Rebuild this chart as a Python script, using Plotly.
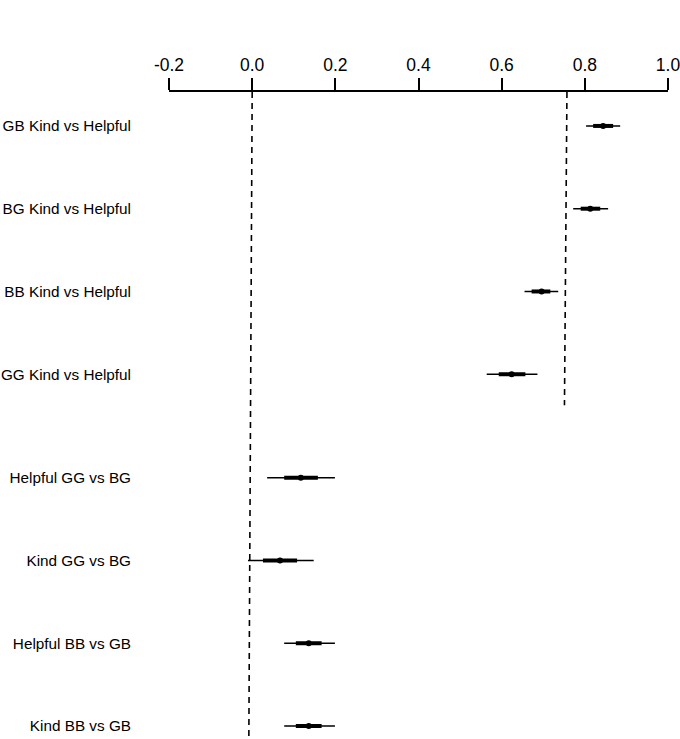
import plotly.graph_objects as go

# rows from top to bottom
labels = ["GB Kind vs Helpful", "BG Kind vs Helpful", "BB Kind vs Helpful", "GG Kind vs Helpful",
          "Helpful GG vs BG", "Kind GG vs BG", "Helpful BB vs GB", "Kind BB vs GB"]
est = [0.844, 0.813, 0.696, 0.624, 0.117, 0.067, 0.136, 0.136]
lo_outer = [0.803, 0.772, 0.655, 0.564, 0.036, -0.010, 0.077, 0.077]
hi_outer = [0.885, 0.856, 0.736, 0.686, 0.199, 0.148, 0.199, 0.199]
lo_inner = [0.820, 0.790, 0.672, 0.593, 0.077, 0.026, 0.105, 0.105]
hi_inner = [0.868, 0.837, 0.717, 0.657, 0.158, 0.108, 0.167, 0.167]
pooled = 0.757  # dashed line for the first group
tick_vals = [-0.2, 0.0, 0.2, 0.4, 0.6, 0.8, 1.0]

# y position: bottom row = 1, extra gap between the two groups
n = len(labels)
ypos = []
for i in range(n):
    y = n - i
    if i < 4:
        y += 0.25
    ypos.append(y)

def segs(a, b):
    xs, ys = [], []
    for x0, x1, y in zip(a, b, ypos):
        xs += [x0, x1, None]
        ys += [y, y, None]
    return xs, ys

fig = go.Figure()
xs, ys = segs(lo_outer, hi_outer)
fig.add_trace(go.Scatter(x=xs, y=ys, mode="lines", line=dict(color="black", width=1.6),
                         hoverinfo="skip"))
xs, ys = segs(lo_inner, hi_inner)
fig.add_trace(go.Scatter(x=xs, y=ys, mode="lines", line=dict(color="black", width=4),
                         hoverinfo="skip"))
fig.add_trace(go.Scatter(x=est, y=ypos, mode="markers",
                         marker=dict(color="black", size=6)))

# reference lines
fig.add_shape(type="line", xref="x", yref="paper", x0=0, x1=-0.008, y0=1, y1=0,
              line=dict(color="black", width=1.6, dash="6px,5px"))
fig.add_shape(type="line", xref="x", yref="y", x0=pooled, x1=pooled - 0.006,
              y0=8.66, y1=ypos[3] - 0.375,
              line=dict(color="black", width=1.6, dash="6px,5px"))

fig.update_layout(
    width=680, height=739,
    margin=dict(l=169, r=12, t=92, b=0),
    plot_bgcolor="white", paper_bgcolor="white",
    showlegend=False,
    font=dict(family="Liberation Sans, Arial, sans-serif", color="black"),
    xaxis=dict(side="top", range=[-0.2, 1.0], tickvals=tick_vals,
               ticktext=[f"{v:.1f}" for v in tick_vals], ticklabeloverflow="allow",
               ticks="outside", ticklen=12, tickwidth=1.5, tickcolor="black",
               showline=True, linecolor="black", linewidth=1.5, automargin=False,
               showgrid=False, zeroline=False, tickfont=dict(size=17.5)),
    yaxis=dict(range=[0.843, 8.66], tickvals=ypos, ticktext=labels, automargin=False,
               showgrid=False, zeroline=False, showline=False, ticks="",
               tickfont=dict(size=15.3), ticklabelstandoff=37),
)

# drop the default page margin so the figure sits at the window corner
fig.write_html("out.html", config={"displayModeBar": False},
               post_script="document.body.style.margin='0';document.body.style.overflow='hidden';")
